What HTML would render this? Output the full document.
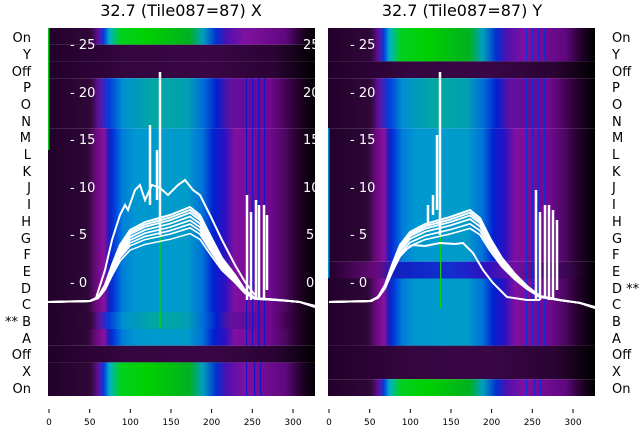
<!DOCTYPE html>
<html><head><meta charset="utf-8"><style>
body{margin:0;background:#fff;width:640px;height:440px;overflow:hidden;font-family:"Liberation Sans","DejaVu Sans",sans-serif}
</style></head><body>
<svg width="640" height="440" viewBox="0 0 640 440" xmlns="http://www.w3.org/2000/svg" font-family="DejaVu Sans, Liberation Sans, sans-serif">
<defs>
<linearGradient id="bl" x1="0" x2="1" y1="0" y2="0">
<stop offset="0" stop-color="#22002a"/><stop offset="0.15" stop-color="#2e0838"/><stop offset="0.18" stop-color="#6a0a80"/>
<stop offset="0.21" stop-color="#8a10a0"/><stop offset="0.23" stop-color="#1020c0"/><stop offset="0.25" stop-color="#0040e0"/>
<stop offset="0.28" stop-color="#0080d8"/><stop offset="0.33" stop-color="#0098d0"/><stop offset="0.52" stop-color="#009cc8"/>
<stop offset="0.58" stop-color="#0070d8"/><stop offset="0.62" stop-color="#0020d0"/><stop offset="0.665" stop-color="#3010c0"/>
<stop offset="0.7" stop-color="#8010a0"/><stop offset="0.83" stop-color="#700890"/><stop offset="0.89" stop-color="#4a0860"/>
<stop offset="0.93" stop-color="#280030"/><stop offset="1" stop-color="#000"/></linearGradient>
<linearGradient id="gr" x1="0" x2="1" y1="0" y2="0">
<stop offset="0" stop-color="#22002a"/><stop offset="0.16" stop-color="#300838"/><stop offset="0.19" stop-color="#6010a0"/>
<stop offset="0.21" stop-color="#0040e0"/><stop offset="0.23" stop-color="#00b0c8"/><stop offset="0.27" stop-color="#00d020"/>
<stop offset="0.37" stop-color="#00d000"/><stop offset="0.53" stop-color="#00b020"/><stop offset="0.58" stop-color="#00a0c0"/>
<stop offset="0.63" stop-color="#0030d0"/><stop offset="0.67" stop-color="#5010b0"/><stop offset="0.74" stop-color="#8010a0"/>
<stop offset="0.89" stop-color="#600880"/><stop offset="0.95" stop-color="#200028"/><stop offset="1" stop-color="#000"/></linearGradient>
<linearGradient id="tg" x1="0" x2="1" y1="0" y2="0">
<stop offset="0" stop-color="#22002a"/><stop offset="0.16" stop-color="#300838"/><stop offset="0.19" stop-color="#6010a0"/>
<stop offset="0.23" stop-color="#0040e0"/><stop offset="0.28" stop-color="#0090d0"/><stop offset="0.4" stop-color="#00a8a0"/>
<stop offset="0.52" stop-color="#00a0b0"/><stop offset="0.58" stop-color="#0070d8"/><stop offset="0.63" stop-color="#0020d0"/>
<stop offset="0.68" stop-color="#6010a0"/><stop offset="0.83" stop-color="#700890"/><stop offset="0.93" stop-color="#280030"/><stop offset="1" stop-color="#000"/></linearGradient>
<linearGradient id="dk" x1="0" x2="1" y1="0" y2="0">
<stop offset="0" stop-color="#22002a"/><stop offset="0.3" stop-color="#34063f"/><stop offset="0.6" stop-color="#3a0646"/>
<stop offset="0.85" stop-color="#2a0434"/><stop offset="1" stop-color="#000"/></linearGradient>
<linearGradient id="db" x1="0" x2="1" y1="0" y2="0">
<stop offset="0" stop-color="#22002a"/><stop offset="0.19" stop-color="#6a0a80"/><stop offset="0.25" stop-color="#1020c0"/>
<stop offset="0.45" stop-color="#1030d0"/><stop offset="0.6" stop-color="#3010c0"/><stop offset="0.7" stop-color="#7010a0"/>
<stop offset="0.9" stop-color="#3a0650"/><stop offset="1" stop-color="#000"/></linearGradient>
<path id="hump" d="M48,302 L90,301 L98,297 L105,285 L112,265 L120,245 L130,230 L145,222 L170,215 L190,207 L200,215 L210,235 L222,258 L235,275 L245,290 L255,298 L280,300 L300,302 L315,307" fill="none"/>
<path id="hump2" d="M329,302 L370,301 L378,297 L385,285 L392,265 L400,245 L410,232 L425,224 L450,217 L470,210 L480,218 L490,238 L502,258 L515,274 L527,286 L540,296 L560,300 L580,303 L595,308" fill="none"/>
</defs>

<text x="181" y="16" font-size="16" text-anchor="middle" fill="#000">32.7 (Tile087=87) X</text>
<text x="462" y="16" font-size="16" text-anchor="middle" fill="#000">32.7 (Tile087=87) Y</text>

<!-- LEFT PANEL -->
<g transform="translate(48,28)">
<rect x="0" y="0" width="267" height="16.7" fill="url(#gr)"/>
<rect x="0" y="16.7" width="267" height="16.7" fill="url(#dk)"/>
<rect x="0" y="33.4" width="267" height="16.8" fill="url(#dk)"/>
<rect x="0" y="50.2" width="267" height="50" fill="url(#tg)"/>
<rect x="0" y="100.2" width="267" height="184" fill="url(#bl)"/>
<rect x="0" y="284" width="267" height="17" fill="url(#tg)"/>
<rect x="0" y="301" width="267" height="16.7" fill="url(#bl)"/>
<rect x="0" y="317.7" width="267" height="16.7" fill="url(#dk)"/>
<rect x="0" y="334.4" width="267" height="33.6" fill="url(#gr)"/>
<rect x="0" y="0" width="1.5" height="122" fill="#10c020"/>
<g fill="#0018d8" opacity="0.8"><rect x="198" y="50" width="1.2" height="268"/><rect x="204" y="50" width="1.2" height="268"/><rect x="210" y="50" width="1.5" height="268"/><rect x="216" y="50" width="1.2" height="268"/>
<rect x="198" y="334" width="1.2" height="34"/><rect x="206" y="334" width="1.2" height="34"/><rect x="212" y="334" width="1.2" height="34"/></g>
<rect x="111.5" y="190" width="1.2" height="110" fill="#10d010"/>
<g fill="#fff" font-size="13"><text x="22" y="21">- 25</text><text x="22" y="69">- 20</text><text x="22" y="116">- 15</text><text x="22" y="164">- 10</text><text x="22" y="211">- 5</text><text x="22" y="259">- 0</text>
<text x="255" y="21">25</text><text x="255" y="69">20</text><text x="255" y="116">15</text><text x="255" y="164">10</text><text x="258" y="211">5</text><text x="258" y="259">0</text></g>
</g>
<g stroke="#fff" stroke-width="2" fill="none">
<use href="#hump" transform="translate(0,302) scale(1,0.72) translate(0,-302)"/>
<use href="#hump" transform="translate(0,302) scale(1,0.78) translate(0,-302)"/>
<use href="#hump" transform="translate(0,302) scale(1,0.82) translate(0,-302)"/>
<use href="#hump" transform="translate(0,302) scale(1,0.86) translate(0,-302)"/>
<use href="#hump" transform="translate(0,302) scale(1,0.9) translate(0,-302)"/>
<use href="#hump" transform="translate(0,302) scale(1,0.94) translate(0,-302)"/>
<use href="#hump" transform="translate(0,302) scale(1,0.97) translate(0,-302)"/>
<use href="#hump"/>
<path d="M96,298 L105,270 L112,240 L120,215 L125,205 L128,210 L135,190 L140,185 L145,200 L152,185 L160,188 L168,195 L178,185 L185,180 L193,190 L200,195 L210,215 L222,240 L235,265 L245,282 L255,295"/>
</g>
<g stroke="#fff" stroke-width="2.5" fill="none">
<path d="M160,235 V72"/><path d="M150,205 V125"/><path d="M157,200 V150"/>
<path d="M247,300 V195 M251,300 V212 M256,298 V200 M259,300 V205 M264,298 V205 M267,290 V215"/>
</g>

<!-- RIGHT PANEL -->
<g transform="translate(328,28)">
<rect x="0" y="0" width="267" height="33.4" fill="url(#gr)"/>
<rect x="0" y="33.4" width="267" height="16.8" fill="url(#dk)"/>
<rect x="0" y="50.2" width="267" height="50" fill="url(#tg)"/>
<rect x="0" y="100.2" width="267" height="133.5" fill="url(#bl)"/>
<rect x="0" y="233.7" width="267" height="16.8" fill="url(#db)"/>
<rect x="0" y="250.5" width="267" height="67.3" fill="url(#bl)"/>
<rect x="0" y="317.7" width="267" height="33.5" fill="url(#dk)"/>
<rect x="0" y="351.2" width="267" height="16.8" fill="url(#gr)"/>
<rect x="0" y="100" width="1.5" height="150" fill="#0090d0"/>
<g fill="#0030e0" opacity="0.8"><rect x="198" y="0" width="1.2" height="33"/><rect x="204" y="0" width="1.2" height="33"/><rect x="210" y="0" width="1.5" height="33"/><rect x="216" y="0" width="1.2" height="33"/>
<rect x="198" y="50" width="1.2" height="268"/><rect x="204" y="50" width="1.2" height="268"/><rect x="210" y="50" width="1.5" height="268"/><rect x="216" y="50" width="1.2" height="268"/>
<rect x="198" y="351" width="1.2" height="17"/><rect x="206" y="351" width="1.2" height="17"/><rect x="212" y="351" width="1.2" height="17"/></g>
<rect x="112" y="190" width="1.2" height="90" fill="#10d010"/>
<g fill="#fff" font-size="13"><text x="22" y="21">- 25</text><text x="22" y="69">- 20</text><text x="22" y="116">- 15</text><text x="22" y="164">- 10</text><text x="22" y="211">- 5</text><text x="22" y="259">- 0</text></g>
</g>
<g stroke="#fff" stroke-width="2" fill="none">
<use href="#hump2" transform="translate(0,302) scale(1,0.8) translate(0,-302)"/>
<use href="#hump2" transform="translate(0,302) scale(1,0.85) translate(0,-302)"/>
<use href="#hump2" transform="translate(0,302) scale(1,0.9) translate(0,-302)"/>
<use href="#hump2" transform="translate(0,302) scale(1,0.94) translate(0,-302)"/>
<use href="#hump2" transform="translate(0,302) scale(1,0.97) translate(0,-302)"/>
<use href="#hump2"/>
<path d="M329,302 L372,301 L380,295 L388,280 L397,257 L405,250 L413,245 L425,246 L440,243 L455,244 L463,243 L473,253 L483,270 L493,283 L507,297 L527,300 L540,300"/>
</g>
<g stroke="#fff" stroke-width="2.5" fill="none">
<path d="M440,235 V72"/><path d="M437,210 V135"/><path d="M433,215 V195"/><path d="M428,225 V205"/>
<path d="M536,300 V190 M540,300 V212 M545,298 V205 M549,300 V205 M553,298 V210 M557,290 V220"/>
</g>

<!-- row labels -->
<g font-size="13" fill="#000" text-anchor="end">
<text x="31" y="42">On</text><text x="31" y="59">Y</text><text x="31" y="76">Off</text><text x="31" y="92">P</text><text x="31" y="109">O</text><text x="31" y="126">N</text><text x="31" y="142">M</text><text x="31" y="159">L</text><text x="31" y="176">K</text><text x="31" y="192">J</text><text x="31" y="209">I</text><text x="31" y="226">H</text><text x="31" y="243">G</text><text x="31" y="259">F</text><text x="31" y="276">E</text><text x="31" y="293">D</text><text x="31" y="309">C</text><text x="31" y="326">** B</text><text x="31" y="343">A</text><text x="31" y="359">Off</text><text x="31" y="376">X</text><text x="31" y="393">On</text>
</g>
<g font-size="13" fill="#000">
<text x="612" y="42">On</text><text x="612" y="59">Y</text><text x="612" y="76">Off</text><text x="612" y="92">P</text><text x="612" y="109">O</text><text x="612" y="126">N</text><text x="612" y="142">M</text><text x="612" y="159">L</text><text x="612" y="176">K</text><text x="612" y="192">J</text><text x="612" y="209">I</text><text x="612" y="226">H</text><text x="612" y="243">G</text><text x="612" y="259">F</text><text x="612" y="276">E</text><text x="612" y="293">D **</text><text x="612" y="309">C</text><text x="612" y="326">B</text><text x="612" y="343">A</text><text x="612" y="359">Off</text><text x="612" y="376">X</text><text x="612" y="393">On</text>
</g>
<!-- x ticks -->
<g font-size="9" fill="#000" text-anchor="middle">
<g stroke="#000"><path d="M49,409V413 M89.7,409V413 M130.3,409V413 M171,409V413 M211.6,409V413 M252.3,409V413 M293,409V413"/>
<path d="M329,409V413 M369.7,409V413 M410.3,409V413 M451,409V413 M491.6,409V413 M532.3,409V413 M573,409V413"/></g>
<text x="49" y="425">0</text><text x="89.7" y="425">50</text><text x="130.3" y="425">100</text><text x="171" y="425">150</text><text x="211.6" y="425">200</text><text x="252.3" y="425">250</text><text x="293" y="425">300</text>
<text x="329" y="425">0</text><text x="369.7" y="425">50</text><text x="410.3" y="425">100</text><text x="451" y="425">150</text><text x="491.6" y="425">200</text><text x="532.3" y="425">250</text><text x="573" y="425">300</text>
</g>
</svg>
</body></html>
